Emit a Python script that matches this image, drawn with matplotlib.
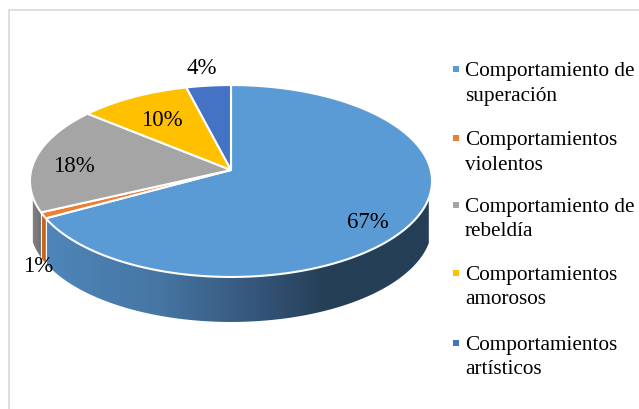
import numpy as np
import matplotlib
matplotlib.use('Agg')
import matplotlib.pyplot as plt
from matplotlib.colors import LinearSegmentedColormap
from matplotlib.patches import Polygon

plt.rcParams['font.family'] = ['Liberation Serif', 'DejaVu Serif']

# chart data
categories = ['Comportamiento de\nsuperación', 'Comportamientos\nviolentos',
              'Comportamiento de\nrebeldía', 'Comportamientos\namorosos',
              'Comportamientos\nartísticos']
values = [67, 1, 18, 10, 4]
labels = ['67%', '1%', '18%', '10%', '4%']
colors = ['#5b9bd5', '#ed7d31', '#a5a5a5', '#ffc000', '#4472c4']

# pie geometry, in pixels of the picture
APEX_X, APEX_Y = 231, 170
SCALE_X, SCALE_Y = 199.7, 94.7
PERSPECTIVE = 0.1146
DEPTH = 45
WALL_TOP = 197  # the side wall only shows below this height

label_pos = [(368, 222), (38, 266), (74, 166), (162, 120), (202, 68)]
legend_y = [69, 138, 205, 273, 343]
LINE_GAP = 24.5

fig = plt.figure(figsize=(6.39, 4.09), dpi=100)
ax = fig.add_axes([0, 0, 1, 1])
ax.axis('off')


def rim(angle):
    # angle in radians, clockwise from the top of the pie
    u = np.sin(angle)
    v = np.cos(angle)
    d = 1 + PERSPECTIVE * v
    return APEX_X + SCALE_X * u / d, APEX_Y - SCALE_Y * v / d


def wall(start, end):
    # outline of the visible part of a slice's side wall
    th = np.linspace(start, end, 200)
    x, y = rim(th)
    keep = y >= WALL_TOP
    x, y = x[keep], y[keep]
    return np.c_[np.r_[x, x[::-1]], np.r_[y, y[::-1] + DEPTH]]


# outer frame
ax.plot([9, 9, 639], [409, 9.5, 9.5], color='#d9d9d9', lw=1.2)

edges = np.cumsum([0] + values) / sum(values) * 2 * np.pi

# side walls with their gradients, left to right
blue_side = LinearSegmentedColormap.from_list(
    'blue_side', [(0, '#4f86ba'), (0.3, '#4676a3'), (0.55, '#35557a'),
                  (0.72, '#253f57'), (1, '#253f57')])
grey_side = LinearSegmentedColormap.from_list('grey_side', ['#8a8a8a', '#6f6f6f'])
orange_side = LinearSegmentedColormap.from_list('orange_side', ['#d06a25', '#c05f1f'])

wall_styles = [(0, blue_side, 40, 435), (1, orange_side, 38, 46), (2, grey_side, 28, 42)]
gradient = np.linspace(0, 1, 256).reshape(1, -1)
for i, cmap, x0, x1 in wall_styles:
    patch = Polygon(wall(edges[i], edges[i + 1]), closed=True, transform=ax.transData,
                    facecolor='none', edgecolor='none')
    ax.add_patch(patch)
    im = ax.imshow(gradient, cmap=cmap, extent=(x0, x1, 409, 0), aspect='auto', zorder=2)
    im.set_clip_path(patch)

# white cuts between the side walls
for e in edges[1:3]:
    x, y = rim(e)
    ax.plot([x, x], [y, y + DEPTH], color='white', lw=0.8, zorder=3)

# top face
for i in range(len(values)):
    th = np.linspace(edges[i], edges[i + 1], max(int(values[i] * 6), 4))
    x, y = rim(th)
    ax.fill(np.r_[APEX_X, x], np.r_[APEX_Y, y], facecolor=colors[i],
            edgecolor='white', lw=1.5, joinstyle='round', zorder=3)

for txt, (x, y) in zip(labels, label_pos):
    ax.text(x, y, txt, fontsize=16.5, ha='center', va='center', color='black', zorder=5)

for name, col, y in zip(categories, colors, legend_y):
    ax.scatter([456], [y], marker='s', s=20, color=col, linewidths=0, zorder=5)
    for j, line in enumerate(name.split('\n')):
        ax.text(465, y + 2.5 + j * LINE_GAP, line, fontsize=15.3, ha='left', va='center',
                color='black', zorder=5)

ax.set_xlim(0, 639)
ax.set_ylim(409, 0)
fig.savefig('out.png', dpi=100)
